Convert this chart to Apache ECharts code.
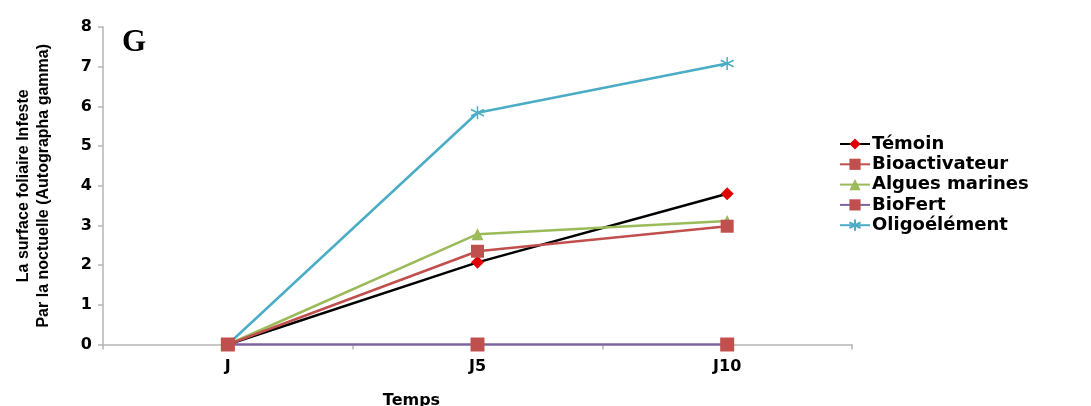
<!DOCTYPE html>
<html><head><meta charset="utf-8">
<script src="https://cdn.jsdelivr.net/npm/echarts@6/dist/echarts.min.js"></script>
<style>html,body{margin:0;padding:0;background:#fff}#c{width:1091px;height:406px}</style>
</head><body><div id="c"></div>
<script>
const categories = ['J', 'J5', 'J10'];
const temoin = [0, 2.07, 3.80];
const bioactivateur = [0, 2.35, 2.98];
const algues = [0, 2.78, 3.11];
const biofert = [0, 0, 0];
const oligo = [0, 5.84, 7.08];
const yTicks = [0, 1, 2, 3, 4, 5, 6, 7, 8];

const chart = echarts.init(document.getElementById('c'));
const font = 'Liberation Sans, Arial, sans-serif';
const wide = 'DejaVu Sans, Verdana, sans-serif';
const star = 'path://M5,0L5,10M0.7,2.5L9.3,7.5M0.7,7.5L9.3,2.5';
function s(name, data, lineColor, symbol, symColor, size, extra) {
  return Object.assign({
    name, type: 'line', data, symbol, symbolSize: size,
    lineStyle: { color: lineColor, width: 2.5 },
    itemStyle: { color: symColor, borderColor: symColor, borderWidth: 0 },
    emphasis: { disabled: true }, animation: false
  }, extra || {});
}
chart.setOption({
  animation: false,
  grid: { left: 103, right: 239, top: 27, bottom: 61.5, containLabel: false, outerBoundsMode: 'none' },
  title: { text: 'G', left: 117, top: 22, textStyle: { fontFamily: 'Liberation Serif, Times New Roman, serif', fontSize: 31, fontWeight: 'bold', color: '#000' } },
  legend: {
    orient: 'vertical', left: 834, top: 130, itemWidth: 30, itemHeight: 14, itemGap: 2.3,
    textStyle: { fontFamily: wide, fontSize: 18, fontWeight: 'bold', color: '#000', lineHeight: 14, padding: [0, 0, 0, -3] },
    data: ['Témoin', 'Bioactivateur', 'Algues marines', 'BioFert', 'Oligoélément']
  },
  xAxis: {
    type: 'category', data: categories, boundaryGap: true,
    name: 'Temps', nameLocation: 'middle', nameGap: 48,
    nameTextStyle: { fontFamily: wide, fontSize: 16, fontWeight: 'bold', color: '#000', padding: [0, 132, 0, 0] },
    axisLine: { lineStyle: { color: '#b5b5b5', width: 1.5 } },
    axisTick: { show: true, alignWithLabel: false, length: 5, lineStyle: { color: '#b5b5b5', width: 1.5 } },
    axisLabel: { fontFamily: wide, fontSize: 16, fontWeight: 'bold', color: '#000', margin: 14 }
  },
  yAxis: {
    type: 'value', min: 0, max: 8, interval: 1,
    name: 'La surface foliaire Infeste\nPar la noctuelle (Autographa gamma)',
    nameLocation: 'middle', nameGap: 49, nameRotate: 90,
    nameTextStyle: { fontFamily: font, fontSize: 16, fontWeight: 'bold', color: '#000', lineHeight: 20 },
    axisLine: { show: true, lineStyle: { color: '#b5b5b5', width: 1.5 } },
    axisTick: { show: true, length: 5, lineStyle: { color: '#b5b5b5', width: 1.5 } },
    splitLine: { show: false },
    axisLabel: { fontFamily: wide, fontSize: 16, fontWeight: 'bold', color: '#000', margin: 11,
      formatter: v => yTicks.includes(v) ? String(v) : '' }
  },
  series: [
    s('Oligoélément', oligo, '#4bacc6', star, '#4bacc6', 13, { itemStyle: { color: 'transparent', borderColor: '#4bacc6', borderWidth: 1.5 } }),
    s('BioFert', biofert, '#8064a2', 'rect', '#c0504d', 14),
    s('Témoin', temoin, '#000000', 'diamond', '#e00000', 13),
    s('Algues marines', algues, '#9bbb59', 'triangle', '#9bbb59', 12),
    s('Bioactivateur', bioactivateur, '#c0504d', 'rect', '#c0504d', 13)
  ]
});
</script></body></html>
